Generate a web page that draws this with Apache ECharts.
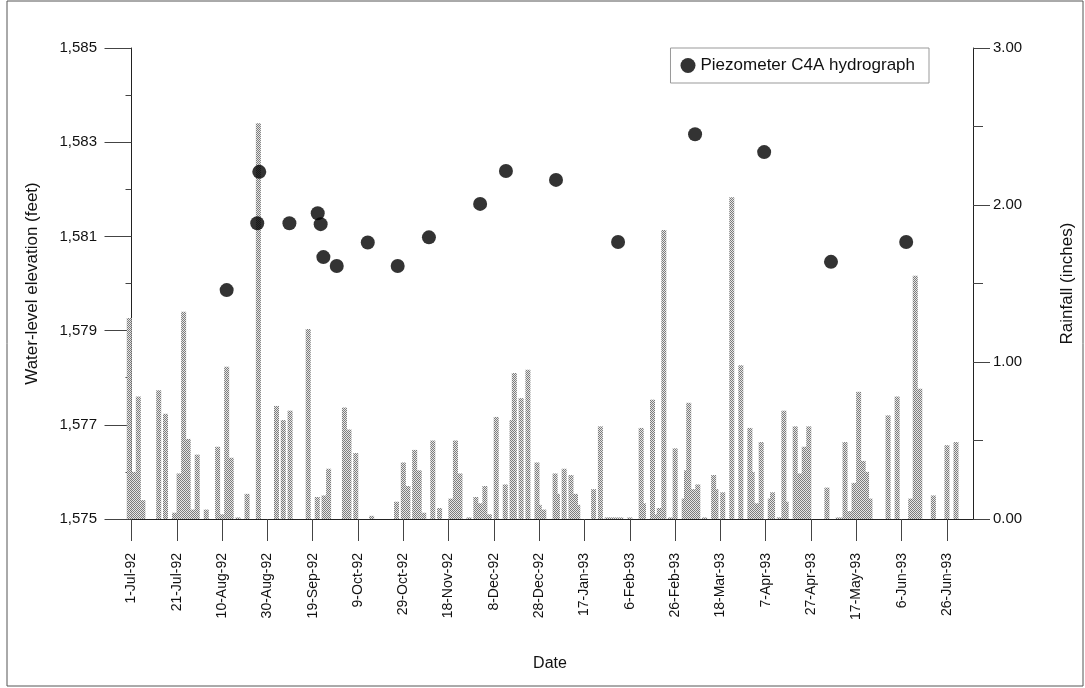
<!DOCTYPE html>
<html>
<head>
<meta charset="utf-8">
<script src="https://cdn.jsdelivr.net/npm/echarts@6/dist/echarts.min.js"></script>
<style>
html,body{margin:0;padding:0;background:#fff;}
#chart{width:1085px;height:688px;}
</style>
</head>
<body>
<div id="chart"></div>
<script>
// Days counted from 1-Jul-92 (day 0)
const tickDays = [0,20,40,60,80,100,120,140,160,180,200,220,240,260,280,300,320,340,360];
const tickLabels = ['1-Jul-92','21-Jul-92','10-Aug-92','30-Aug-92','19-Sep-92','9-Oct-92','29-Oct-92','18-Nov-92','8-Dec-92','28-Dec-92','17-Jan-93','6-Feb-93','26-Feb-93','18-Mar-93','7-Apr-93','27-Apr-93','17-May-93','6-Jun-93','26-Jun-93'];

// Daily rainfall (inches)
const rainDays = [-1,1,3,5,12,15,19,21,23,25,27,29,33,38,40,42,44,47,51,56,64,67,70,78,82,85,87,94,96,99,106,117,120,122,125,127,129,133,136,141,143,145,149,152,154,156,158,161,165,168,169,172,175,179,180,182,187,188,191,194,196,197,204,207,210,212,214,216,220,225,226,230,231,233,235,238,240,244,245,246,248,250,253,257,258,261,265,269,273,274,276,278,282,283,286,288,289,293,295,297,299,307,312,314,315,317,319,321,323,324.5,326,334,338,344,346,348,354,360,364];
const rainInches = [1.28,0.30,0.78,0.12,0.82,0.67,0.04,0.29,1.32,0.51,0.06,0.41,0.06,0.46,0.03,0.97,0.39,0.01,0.16,2.52,0.72,0.63,0.69,1.21,0.14,0.15,0.32,0.71,0.57,0.42,0.02,0.11,0.36,0.21,0.44,0.31,0.04,0.50,0.07,0.13,0.50,0.29,0.01,0.14,0.10,0.21,0.03,0.65,0.22,0.63,0.93,0.77,0.95,0.36,0.09,0.06,0.29,0.16,0.32,0.28,0.16,0.09,0.19,0.59,0.01,0.01,0.01,0.01,0.01,0.58,0.10,0.76,0.03,0.07,1.84,0.01,0.45,0.13,0.31,0.74,0.19,0.22,0.01,0.28,0.19,0.17,2.05,0.98,0.58,0.30,0.10,0.49,0.13,0.17,0.01,0.69,0.11,0.59,0.29,0.46,0.59,0.20,0.01,0.01,0.49,0.05,0.23,0.81,0.37,0.30,0.13,0.66,0.78,0.13,1.55,0.83,0.15,0.47,0.49];

// Piezometer C4A water-level elevation (feet)
const wellDays = [42,56.4,55.5,69.7,82.2,83.5,84.7,90.6,104.3,117.5,131.3,153.9,165.3,187.4,214.8,248.8,279.3,308.8,342];
const wellElev = [1579.86,1582.37,1581.28,1581.28,1581.49,1581.26,1580.56,1580.37,1580.87,1580.37,1580.98,1581.69,1582.39,1582.20,1580.88,1583.17,1582.79,1580.46,1580.88];

const ELEV_BASE = 1575;

// checker pattern for rainfall bars
const pc = document.createElement('canvas');
pc.width = 2; pc.height = 2;
const pctx = pc.getContext('2d');
pctx.fillStyle = '#e6e6e6'; pctx.fillRect(0,0,2,2);
pctx.fillStyle = '#7c7c7c'; pctx.fillRect(0,0,1,1); pctx.fillRect(1,1,1,1);

const rainData = rainDays.map((d,i)=>[d, rainInches[i]]);
const wellData = wellDays.map((d,i)=>[d, wellElev[i]-ELEV_BASE]);

const FONT = 'Liberation Sans, Arial, sans-serif';
const chart = echarts.init(document.getElementById('chart'), null, {renderer:'canvas'});
chart.setOption({
  animation:false,
  backgroundColor:'#fff',
  grid:{left:127, right:112, top:48, bottom:169},
  graphic:[{type:'rect', shape:{x:7,y:1,width:1076,height:685}, style:{fill:'none', stroke:'#555', lineWidth:1}}],
  legend:{
    data:['Piezometer C4A hydrograph'],
    right:156, top:48,
    orient:'horizontal',
    borderColor:'#999', borderWidth:1, borderRadius:0,
    padding:[9,14,9,10],
    itemWidth:15, itemHeight:15, itemGap:10,
    textStyle:{fontFamily:FONT, fontSize:17, color:'#111'}
  },
  xAxis:{
    type:'value', min:-2, max:371.5,
    axisLine:{show:true, lineStyle:{color:'#222', width:1}},
    axisTick:{show:true, customValues:tickDays, length:22, lineStyle:{color:'#444'}},
    axisLabel:{show:true, customValues:tickDays, rotate:90, margin:34,
      fontFamily:FONT, fontSize:14, color:'#111',
      formatter:function(v){const i=tickDays.indexOf(v); return i>=0?tickLabels[i]:'';}},
    splitLine:{show:false},
    name:'Date', nameLocation:'middle', nameGap:137,
    nameTextStyle:{fontFamily:FONT, fontSize:16, color:'#111'}
  },
  yAxis:[{
    type:'value', min:0, max:10, interval:2, position:'left',
    axisLine:{show:true, lineStyle:{color:'#222', width:1}},
    axisTick:{show:true, length:27, lineStyle:{color:'#444'}},
    minorTick:{show:true, splitNumber:2, length:6, lineStyle:{color:'#444'}},
    axisLabel:{margin:30, fontFamily:FONT, fontSize:15, color:'#111',
      formatter:function(v){const n=v+ELEV_BASE; return String(n).replace(/\B(?=(\d{3})+(?!\d))/g, ',');}},
    splitLine:{show:false},
    name:'Water-level elevation (feet)', nameLocation:'middle', nameGap:86, nameRotate:90,
    nameTextStyle:{fontFamily:FONT, fontSize:17, color:'#111'}
  },{
    type:'value', min:0, max:3, interval:1, position:'right',
    axisLine:{show:true, lineStyle:{color:'#222', width:1}},
    axisTick:{show:true, length:17, lineStyle:{color:'#444'}},
    minorTick:{show:true, splitNumber:2, length:10, lineStyle:{color:'#444'}},
    axisLabel:{margin:20, fontFamily:FONT, fontSize:15, color:'#111',
      formatter:function(v){return v.toFixed(2);}},
    splitLine:{show:false},
    name:'Rainfall (inches)', nameLocation:'middle', nameGap:86, nameRotate:90,
    nameTextStyle:{fontFamily:FONT, fontSize:17, color:'#111'}
  }],
  series:[{
    name:'Rainfall', type:'bar', yAxisIndex:1, barWidth:5, barGap:'-100%',
    data:rainData,
    itemStyle:{color:{image:pc, repeat:'repeat'}},
    emphasis:{disabled:true}
  },{
    name:'Piezometer C4A hydrograph', type:'scatter', yAxisIndex:0,
    symbol:'circle', symbolSize:14,
    data:wellData,
    itemStyle:{color:'#000'},
    z:5
  }]
});
</script>
</body>
</html>
